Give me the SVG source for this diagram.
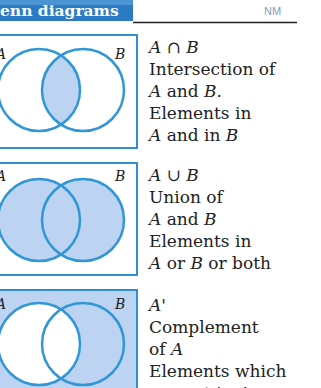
<svg xmlns="http://www.w3.org/2000/svg" width="321" height="388" viewBox="0 0 321 388">
<defs>
<style>
.box{fill:#ffffff;stroke:#2f8fd0;stroke-width:2}
.fillbox{fill:#bcd4f2;stroke:#2f8fd0;stroke-width:2}
.circ{fill:none;stroke:#3196d6;stroke-width:2.5}
.sh{fill:#bcd4f2}
.wh{fill:#ffffff}
.lbl{font-family:"DejaVu Serif",serif;font-style:italic;font-size:14px;fill:#222}
.t{font-family:"DejaVu Serif",serif;font-size:17px;fill:#222}
.i{font-style:italic}
</style>
<clipPath id="cA1"><circle cx="39" cy="90" r="41"/></clipPath>
</defs>
<g id="header">
<rect x="-2" y="0" width="135" height="21" fill="#2b7cc4"/>
<rect x="-2" y="0" width="135" height="5" fill="#4a94d4"/>
<text x="0" y="16" font-family="'DejaVu Serif',serif" font-size="15.5" font-weight="bold" fill="#ffffff">enn diagrams</text>
<line x1="133" y1="22.5" x2="297" y2="22.5" stroke="#222" stroke-width="1.5"/>
<text x="264" y="15" font-family="'Liberation Sans',sans-serif" font-size="11" fill="#7f9cbc">NM</text>
</g>
<g id="intersection">
<rect class="box" x="-5" y="35" width="142" height="113"/>
<circle class="sh" cx="83" cy="90" r="41" clip-path="url(#cA1)"/>
<circle class="circ" cx="39" cy="90" r="41"/>
<circle class="circ" cx="83" cy="90" r="41"/>
<text class="lbl" x="-4" y="59">A</text>
<text class="lbl" x="115" y="59">B</text>
<text class="t" x="149" y="53"><tspan class="i">A</tspan> ∩ <tspan class="i">B</tspan></text>
<text class="t" x="149" y="75">Intersection of</text>
<text class="t" x="149" y="97"><tspan class="i">A</tspan> and <tspan class="i">B</tspan>.</text>
<text class="t" x="149" y="119">Elements in</text>
<text class="t" x="149" y="141"><tspan class="i">A</tspan> and in <tspan class="i">B</tspan></text>
</g>
<g id="union">
<rect class="box" x="-5" y="163" width="142" height="112"/>
<circle class="sh" cx="39" cy="220" r="41"/>
<circle class="sh" cx="83" cy="220" r="41"/>
<circle class="circ" cx="39" cy="220" r="41"/>
<circle class="circ" cx="83" cy="220" r="41"/>
<text class="lbl" x="-4" y="181">A</text>
<text class="lbl" x="115" y="181">B</text>
<text class="t" x="149" y="181"><tspan class="i">A</tspan> ∪ <tspan class="i">B</tspan></text>
<text class="t" x="149" y="203">Union of</text>
<text class="t" x="149" y="225"><tspan class="i">A</tspan> and <tspan class="i">B</tspan></text>
<text class="t" x="149" y="247">Elements in</text>
<text class="t" x="149" y="269"><tspan class="i">A</tspan> or <tspan class="i">B</tspan> or both</text>
</g>
<g id="complement">
<rect class="fillbox" x="-5" y="290" width="142" height="110"/>
<circle class="wh" cx="39" cy="344" r="41"/>
<circle class="circ" cx="39" cy="344" r="41"/>
<circle class="circ" cx="83" cy="344" r="41"/>
<text class="lbl" x="-4" y="309">A</text>
<text class="lbl" x="115" y="309">B</text>
<text class="t" x="149" y="311"><tspan class="i">A</tspan>'</text>
<text class="t" x="149" y="333">Complement</text>
<text class="t" x="149" y="355">of <tspan class="i">A</tspan></text>
<text class="t" x="149" y="377">Elements which</text>
<text class="t" x="149" y="399">are not in <tspan class="i">A</tspan></text>
</g>
</svg>
